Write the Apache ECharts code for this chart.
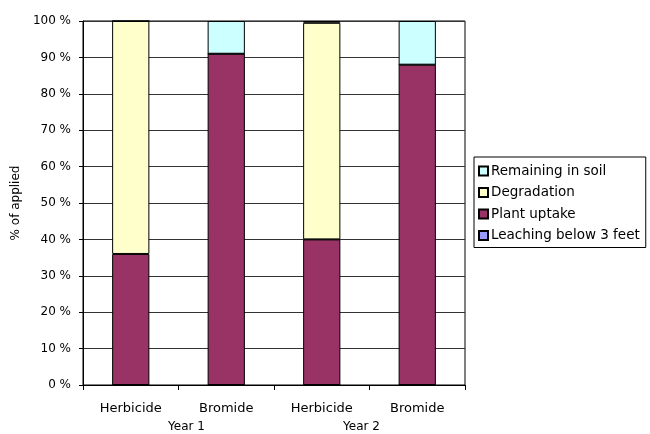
<!DOCTYPE html>
<html>
<head>
<meta charset="utf-8">
<script src="https://cdn.jsdelivr.net/npm/echarts@6/dist/echarts.min.js"></script>
<style>
  html, body { margin: 0; padding: 0; background: #fff; }
  #chart { width: 650px; height: 434px; }
</style>
</head>
<body>
<div id="chart"></div>
<script>
// categories
const crops = ['Herbicide', 'Bromide', 'Herbicide', 'Bromide'];
const years = ['Year 1', 'Year 2'];
const yTicks = [0, 10, 20, 30, 40, 50, 60, 70, 80, 90, 100];

// series values, % of applied (bottom to top)
const leaching = [0, 0, 0, 0];
const plantUptake = [36, 91, 40, 88];
const degradation = [64, 0, 59.5, 0];
const remaining = [0, 9, 0.5, 12];

const font = '"DejaVu Sans", Arial, sans-serif';
const chart = echarts.init(document.getElementById('chart'));

function bar(name, data, color) {
  return {
    name: name,
    type: 'bar',
    stack: 'total',
    barWidth: '39%',
    data: data,
    itemStyle: { color: color, borderColor: '#000', borderWidth: 1 },
  };
}

const option = {
  animation: false,
  textStyle: { fontFamily: font, fontSize: 12, color: '#000' },
  grid: {
    left: 83, right: 185, top: 21, bottom: 49,
    show: true, borderColor: '#000', borderWidth: 1,
  },
  legend: {
    orient: 'vertical',
    left: 474, top: 157,
    padding: [7, 6, 5, 4],
    itemWidth: 9, itemHeight: 9, itemGap: 7.5,
    icon: 'rect',
    borderColor: '#000', borderWidth: 1,
    textStyle: { fontFamily: font, fontSize: 13.5, color: '#000', padding: [0, 0, 0, -2] },
    data: ['Remaining in soil', 'Degradation', 'Plant uptake', 'Leaching below 3 feet'],
  },
  xAxis: [{
    type: 'category',
    data: crops,
    axisLine: { lineStyle: { color: '#000' } },
    axisTick: { show: true, length: 5, lineStyle: { color: '#000' } },
    axisLabel: { fontFamily: font, fontSize: 13, color: '#000', margin: 17 },
  }, {
    type: 'category',
    position: 'bottom',
    data: years,
    axisLine: { show: false },
    axisTick: { show: false },
    axisLabel: {
      margin: 36,
      formatter: (v, i) => i === 0 ? '{a|' + v + '}' : '{b|' + v + '}',
      rich: {
        a: { fontFamily: font, fontSize: 12, color: '#000', padding: [0, 0, 0, 16] },
        b: { fontFamily: font, fontSize: 12, color: '#000', padding: [0, 16, 0, 0] },
      },
    },
  }],
  yAxis: {
    type: 'value',
    min: yTicks[0], max: yTicks[yTicks.length - 1], interval: 10,
    name: '% of applied',
    nameLocation: 'middle',
    nameGap: 56,
    nameTextStyle: { fontFamily: font, fontSize: 12, color: '#000' },
    axisLine: { show: true, lineStyle: { color: '#000' } },
    axisTick: { show: true, length: 4, lineStyle: { color: '#000' } },
    axisLabel: { fontFamily: font, fontSize: 12, color: '#000', margin: 12, formatter: '{value} %' },
    splitLine: { show: true, lineStyle: { color: '#333', width: 1 } },
  },
  series: [
    bar('Leaching below 3 feet', leaching, '#9999FF'),
    bar('Plant uptake', plantUptake, '#993366'),
    bar('Degradation', degradation, '#FFFFCC'),
    bar('Remaining in soil', remaining, '#CCFFFF'),
  ],
};
chart.setOption(option);
</script>
</body>
</html>
